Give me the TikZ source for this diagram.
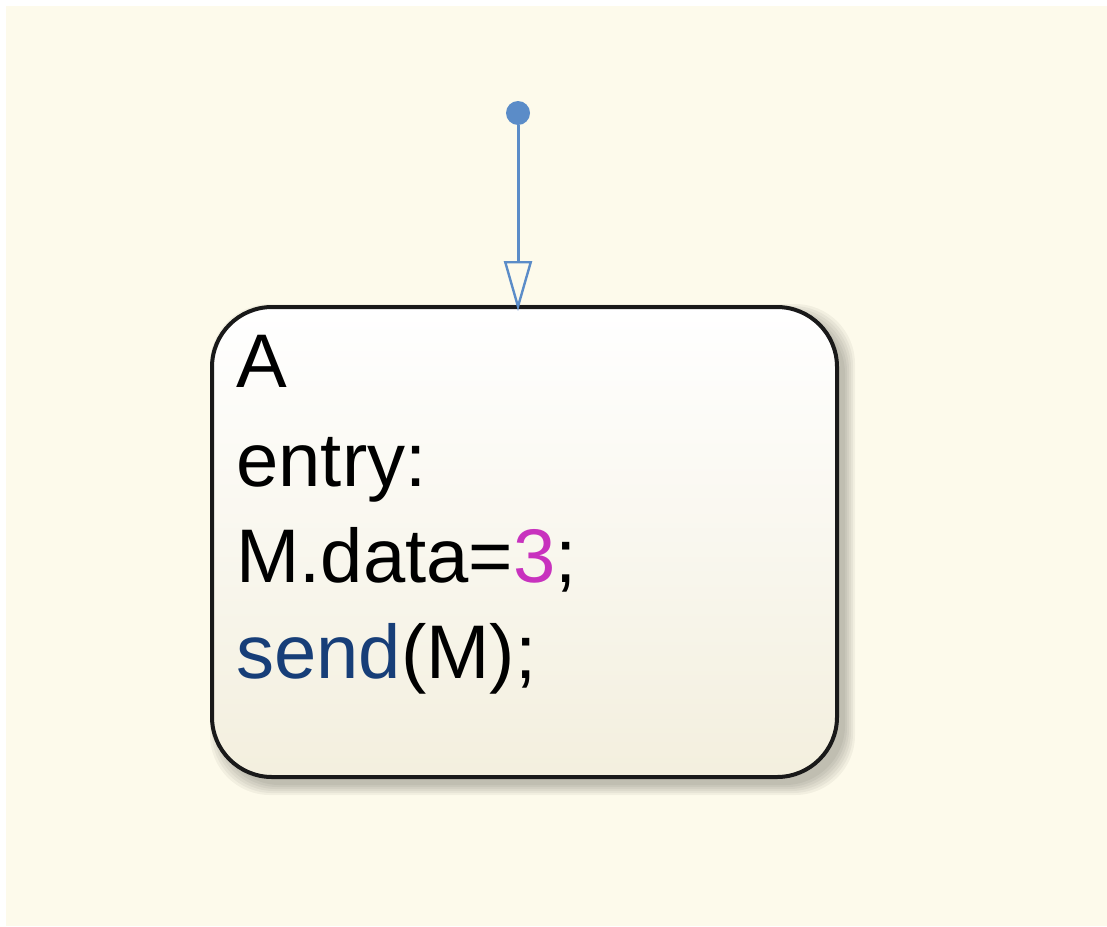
\documentclass[tikz,border=0pt]{standalone}
\usepackage{fontspec}
\setmainfont{Liberation Sans}
\usetikzlibrary{arrows.meta}
\definecolor{paper}{RGB}{253,250,235}
\definecolor{flowblue}{RGB}{91,140,200}
\definecolor{keyblue}{RGB}{23,62,120}
\definecolor{numpink}{RGB}{200,50,190}
\definecolor{statebot}{RGB}{243,239,222}
\tikzset{
  statebox/.style={draw=black!90, line width=2pt, rounded corners=30pt,
    top color=white, bottom color=statebot, minimum width=312.5pt,
    minimum height=235pt, inner sep=0pt},
  codeline/.style={anchor=base west, inner sep=0pt,
    font=\fontsize{38}{46}\selectfont},
  flow/.style={draw=flowblue, line width=1.5pt, shorten >=-3pt,
    -{Triangle[open, length=25pt, width=14pt, line width=1.2pt]}}
}
\begin{document}
\begin{tikzpicture}[x=0.5pt,y=-0.5pt]
\useasboundingbox (0,0) rectangle (1107,926);
\fill[white] (0,0) rectangle (1107,926);
\fill[paper] (6,6) rectangle (1107,926);
% soft shadow under the state
\foreach \s in {0,2,...,10}
  \fill[black, opacity=0.045, rounded corners=30pt]
    (220-\s,314-\s) rectangle (845+\s,785+\s);
\node[statebox] (stateA) at (524.5,542) {};
\node[codeline] (name) at (236,387) {A};
\node[codeline] (entry) at (236,486) {entry:};
\node[codeline] (assign) at (236,582) {M.data=\textcolor{numpink}{3};};
\node[codeline] (send) at (236,678) {\textcolor{keyblue}{send}(M);};
\node[circle, fill=flowblue, minimum size=12pt, inner sep=0pt] (init) at (518,113) {};
\draw[flow] (init) -- (init |- stateA.north);
\end{tikzpicture}
\end{document}
